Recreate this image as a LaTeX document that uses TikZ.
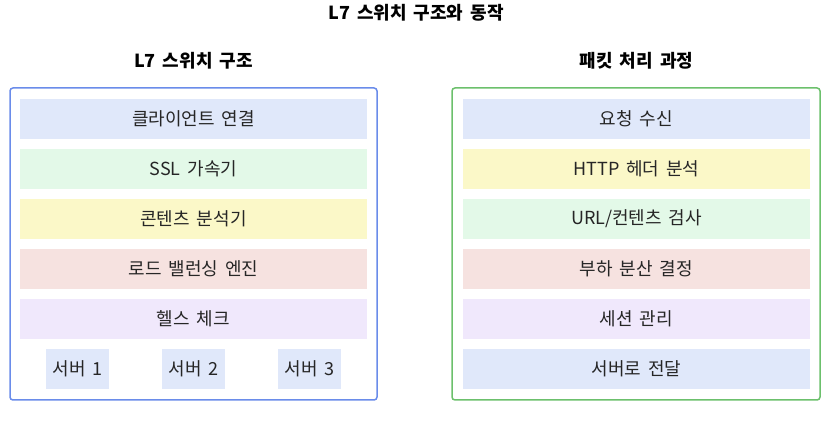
\documentclass[tikz,border=0pt]{standalone}
\usepackage{fontspec}
\setmainfont{Noto Sans CJK KR}[WordSpace=1.7]

\definecolor{rowblue}{HTML}{E0E8FA}
\definecolor{rowgreen}{HTML}{E3F9E8}
\definecolor{rowyellow}{HTML}{FBF8C8}
\definecolor{rowred}{HTML}{F6E2E0}
\definecolor{rowpurple}{HTML}{F0E8FC}
\definecolor{edgeblue}{HTML}{6A8CEA}
\definecolor{edgegreen}{HTML}{6CC06C}

\tikzset{
    layer/.style={minimum width=347pt, minimum height=40pt, inner sep=0pt, font=\fontsize{18}{20}\selectfont, text=black!85},
    server/.style={layer, minimum width=63pt},
    heading/.style={font=\fontsize{18}{20}\selectfont\bfseries}
}

\begin{document}
\begin{tikzpicture}[x=1pt,y=-1pt]
        \useasboundingbox (0,0) rectangle (833,443);

        \node[heading] (title) at (416,13) {L7 스위치 구조와 동작};
        \node[heading] (lefthead) at (193.5,61) {L7 스위치 구조};
        \node[heading] (righthead) at (636.5,61) {패킷 처리 과정};

        \draw[edgeblue, line width=1.5pt, rounded corners=3pt] (10,88) rectangle (377,400);
        \draw[edgegreen, line width=1.5pt, rounded corners=3pt] (452,88) rectangle (820,400);

        % switch structure
        \node[layer, fill=rowblue] (client) at (193.5,119) {클라이언트 연결};
        \node[layer, fill=rowgreen] (ssl) at (193.5,169) {SSL 가속기};
        \node[layer, fill=rowyellow] (content) at (193.5,219) {콘텐츠 분석기};
        \node[layer, fill=rowred] (balancer) at (193.5,269) {로드 밸런싱 엔진};
        \node[layer, fill=rowpurple] (health) at (193.5,319) {헬스 체크};
        \node[server, fill=rowblue] (server1) at (77.5,369) {서버 1};
        \node[server, fill=rowblue] (server2) at (193.5,369) {서버 2};
        \node[server, fill=rowblue] (server3) at (309.5,369) {서버 3};

        % packet processing
        \node[layer, fill=rowblue] (receive) at (636.5,119) {요청 수신};
        \node[layer, fill=rowyellow] (header) at (636.5,169) {HTTP 헤더 분석};
        \node[layer, fill=rowgreen] (inspect) at (636.5,219) {URL/컨텐츠 검사};
        \node[layer, fill=rowred] (decide) at (636.5,269) {부하 분산 결정};
        \node[layer, fill=rowpurple] (session) at (636.5,319) {세션 관리};
        \node[layer, fill=rowblue] (forward) at (636.5,369) {서버로 전달};
    \end{tikzpicture}
\end{document}
